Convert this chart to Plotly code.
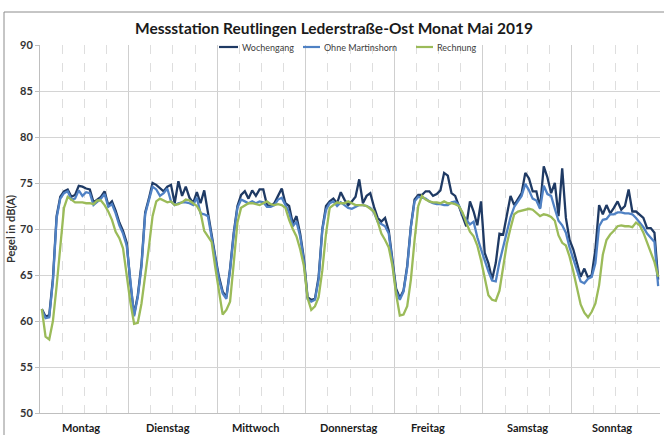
import plotly.graph_objects as go

# Hourly sound levels (dB(A)), Monday 0h ... Sunday 23h
wochengang = [
    61.3, 60.5, 60.6, 64.6, 71.4, 73.5, 74.1, 74.3, 73.5, 73.7, 74.7, 74.6, 74.4, 74.3, 72.9, 73.2, 73.5, 74.1, 72.6, 73.0, 72.0, 70.7, 69.8, 68.5,
    64.1, 60.7, 62.8, 66.2, 71.8, 73.3, 75.0, 74.8, 74.5, 74.1, 74.6, 74.8, 72.8, 75.2, 73.6, 74.6, 73.4, 72.8, 74.0, 72.8, 74.2, 71.7, 69.3, 67.0,
    64.8, 63.2, 62.6, 65.7, 69.6, 72.5, 73.7, 74.1, 73.3, 74.2, 73.6, 74.3, 74.3, 72.6, 72.5, 72.8, 73.6, 74.4, 72.8, 72.5, 70.6, 71.4, 69.5, 66.8,
    62.6, 62.3, 62.4, 64.8, 70.0, 72.5, 73.0, 73.3, 72.8, 74.0, 73.2, 72.6, 73.0, 73.5, 75.4, 72.8, 73.6, 73.9, 72.4, 71.2, 70.8, 71.2, 69.8, 66.5,
    63.5, 62.5, 63.3, 66.0, 70.3, 73.2, 73.7, 73.7, 74.1, 74.1, 73.6, 73.8, 74.2, 76.1, 75.8, 73.9, 73.6, 72.5, 71.4, 70.3, 73.0, 71.9, 70.4, 73.0,
    67.4, 66.3, 64.5, 66.3, 69.5, 69.4, 71.5, 73.6, 72.6, 73.3, 73.9, 76.1, 75.5, 74.1, 74.1, 72.3, 76.8, 75.6, 73.9, 75.0, 71.4, 76.6, 71.2, 68.8,
    67.8, 66.3, 64.8, 65.7, 64.7, 65.0, 67.8, 72.6, 71.6, 72.6, 71.7, 72.3, 73.0, 72.1, 72.5, 74.3, 71.9, 71.9, 71.6, 71.2, 70.1, 70.1, 69.6, 64.5,
]
ohne_martinshorn = [
    61.2, 60.3, 60.4, 64.3, 71.2, 73.3, 73.9, 74.1, 73.2, 73.3, 74.2, 73.6, 74.0, 73.9, 72.6, 72.9, 73.3, 73.8, 72.4, 72.7, 71.7, 70.4, 69.5, 68.2,
    64.0, 60.5, 62.6, 65.9, 71.6, 73.0, 74.6, 74.3, 73.6, 73.9, 74.4, 73.0, 72.6, 72.8, 72.9, 72.9, 72.8, 72.6, 73.4, 71.7, 71.6, 71.4, 69.0, 66.7,
    64.5, 63.0, 62.4, 65.5, 69.4, 72.3, 73.2, 73.0, 72.8, 73.0, 72.8, 73.0, 72.9, 72.4, 72.4, 72.6, 73.2, 73.4, 72.6, 71.8, 70.3, 70.8, 69.2, 66.5,
    62.4, 62.1, 62.3, 64.5, 69.9, 72.1, 72.8, 73.0, 72.5, 72.9, 72.6, 72.3, 72.2, 72.4, 72.6, 72.6, 72.5, 72.3, 71.8, 70.8, 70.5, 70.3, 69.5, 66.2,
    63.2, 62.3, 63.2, 65.8, 70.2, 73.0, 73.5, 73.4, 73.3, 73.0, 72.8, 72.7, 72.7, 72.6, 72.6, 72.9, 73.0, 72.6, 71.6, 71.0, 70.5, 70.8, 69.1, 67.8,
    66.5, 65.4, 64.4, 64.3, 66.4, 68.0, 69.6, 71.3, 72.4, 73.0, 73.6, 74.9, 74.2, 73.3, 73.1, 72.2, 74.7, 73.8, 73.6, 72.2, 70.9, 70.4, 69.6, 68.0,
    66.8, 65.4, 64.3, 64.1, 64.6, 64.8, 66.3, 70.3, 71.0, 71.1, 71.6, 71.6, 71.8, 71.8, 71.7, 71.7, 71.6, 71.2, 70.7, 70.2, 69.5, 69.1, 68.6, 63.8,
]
rechnung = [
    61.3, 58.3, 58.0, 60.0, 63.8, 68.0, 72.3, 73.5, 73.2, 72.9, 72.9, 72.9, 72.8, 72.8, 72.7, 73.1, 73.1, 72.6, 71.9, 71.0, 69.7, 69.0, 67.9, 65.0,
    62.0, 59.7, 59.8, 61.9, 64.8, 68.0, 71.4, 73.0, 73.3, 73.1, 72.9, 73.0, 72.6, 72.7, 72.9, 73.2, 73.1, 72.8, 72.5, 71.8, 69.8, 69.2, 68.6, 65.8,
    63.0, 60.7, 61.2, 62.1, 66.3, 70.7, 72.3, 72.6, 72.8, 72.8, 72.7, 72.6, 72.8, 73.0, 72.7, 72.6, 72.7, 72.6, 72.3, 71.0, 70.0, 69.2, 67.8, 66.0,
    62.5, 61.2, 61.6, 62.6, 65.5, 69.5, 72.3, 72.6, 72.9, 72.8, 72.8, 73.0, 72.8, 72.6, 72.6, 72.6, 72.5, 72.2, 71.9, 70.8, 69.5, 68.8, 68.0, 66.0,
    62.9, 60.6, 60.7, 61.6, 64.5, 68.8, 72.5, 73.6, 73.2, 73.0, 72.9, 72.9, 72.8, 73.0, 72.8, 72.8, 72.7, 72.5, 71.8, 70.7, 69.7, 69.2, 68.2, 66.6,
    64.6, 62.8, 62.3, 62.2, 63.3, 65.9, 68.4, 70.1, 71.6, 71.9, 72.0, 72.1, 72.2, 72.1, 71.8, 71.4, 71.6, 71.5, 71.3, 70.9, 69.3, 68.5, 68.2, 67.0,
    65.4, 63.5, 61.8, 60.9, 60.4, 61.0, 61.9, 63.9, 67.2, 68.8, 69.4, 69.8, 70.3, 70.4, 70.3, 70.3, 70.2, 70.7, 70.4, 69.6, 68.6, 67.6, 66.4, 64.8,
]
days = ["Montag", "Dienstag", "Mittwoch", "Donnerstag", "Freitag", "Samstag", "Sonntag"]
day_label_pos = [10.5, 34.1, 58.0, 83.2, 104.6, 131.5, 154.5]
series_names = ["Wochengang", "Ohne Martinshorn", "Rechnung"]
series_colors = ["#1f3a64", "#4f81c4", "#9bbb59"]
y_ticks = [50, 55, 60, 65, 70, 75, 80, 85, 90]

hours = list(range(len(wochengang)))

W, H = 664, 435
ML, MR, MT, MB = 40, 4, 45, 22
PW, PH = W - ML - MR, H - MT - MB


def px(x):
    return (x - ML) / PW


def py(y):
    return (H - MB - y) / PH


FONT = "Lato, 'Open Sans', sans-serif"

fig = go.Figure()
for name, vals, col in zip(series_names, [wochengang, ohne_martinshorn, rechnung], series_colors):
    fig.add_trace(go.Scatter(
        x=hours, y=vals, mode="lines", name=name,
        line=dict(color=col, width=2.3), showlegend=False,
    ))

day_edges = [24 * i - 0.5 for i in range(1, 7)]
quarter_marks = [6 * i - 0.5 for i in range(1, 28) if i % 4 != 0]

fig.update_xaxes(
    range=[-0.5, len(hours) - 0.5],
    tickmode="array", tickvals=day_edges, showticklabels=False, ticks="",
    showgrid=True, gridcolor="#cfcfcf", gridwidth=1,
    minor=dict(tickmode="array", tickvals=quarter_marks, showgrid=True,
               gridcolor="#dedede", griddash="dash", gridwidth=1),
    showline=True, linecolor="#bfbfbf", linewidth=1, zeroline=False,
)
fig.update_yaxes(
    range=[50, 90], tickmode="array", tickvals=y_ticks,
    showgrid=True, gridcolor="#d4d4d4", gridwidth=1,
    showline=True, linecolor="#bfbfbf", linewidth=1,
    ticks="outside", ticklen=4, tickcolor="#bfbfbf",
    tickfont=dict(family=FONT, size=11, color="#333333", weight="bold"),
    title=dict(text="<b>Pegel in dB(A)</b>", font=dict(family=FONT, size=11, color="#333333"), standoff=2),
    zeroline=False,
)

annotations = []
# chart title
annotations.append(dict(
    text="<b>Messstation Reutlingen Lederstraße-Ost Monat Mai 2019</b>",
    xref="paper", yref="paper", x=px(334), y=py(28), xanchor="center", yanchor="middle",
    showarrow=False, font=dict(family=FONT, size=15.5, color="#1a1a1a"),
))
# day names under the axis
for d, xpos in zip(days, day_label_pos):
    annotations.append(dict(
        text="<b>" + d + "</b>", xref="x", yref="paper", x=xpos, y=py(427),
        xanchor="center", yanchor="middle", showarrow=False,
        font=dict(family=FONT, size=11, color="#1a1a1a"),
    ))

shapes = []
# legend entries
legend_items = [(219, 238, 240), (303, 320, 322), (416, 433, 435)]
for (x0, x1, xt), name, col in zip(legend_items, series_names, series_colors):
    shapes.append(dict(type="line", xref="paper", yref="paper",
                       x0=px(x0), x1=px(x1), y0=py(47), y1=py(47),
                       line=dict(color=col, width=2.2)))
    annotations.append(dict(
        text=name, xref="paper", yref="paper", x=px(xt), y=py(47),
        xanchor="left", yanchor="middle", showarrow=False,
        font=dict(family=FONT, size=9, color="#404040"),
    ))

# chart frame
shapes.append(dict(type="line", xref="paper", yref="paper", x0=px(4), x1=px(4), y0=py(12), y1=py(445),
                   line=dict(color="#8c8c8c", width=1)))
shapes.append(dict(type="line", xref="paper", yref="paper", x0=px(4), x1=px(670), y0=py(12), y1=py(12),
                   line=dict(color="#8c8c8c", width=1)))

fig.update_layout(
    width=W, height=H,
    margin=dict(l=ML, r=MR, t=MT, b=MB),
    paper_bgcolor="white", plot_bgcolor="white",
    annotations=annotations, shapes=shapes,
    showlegend=False,
)

fig.write_html("out.html")
